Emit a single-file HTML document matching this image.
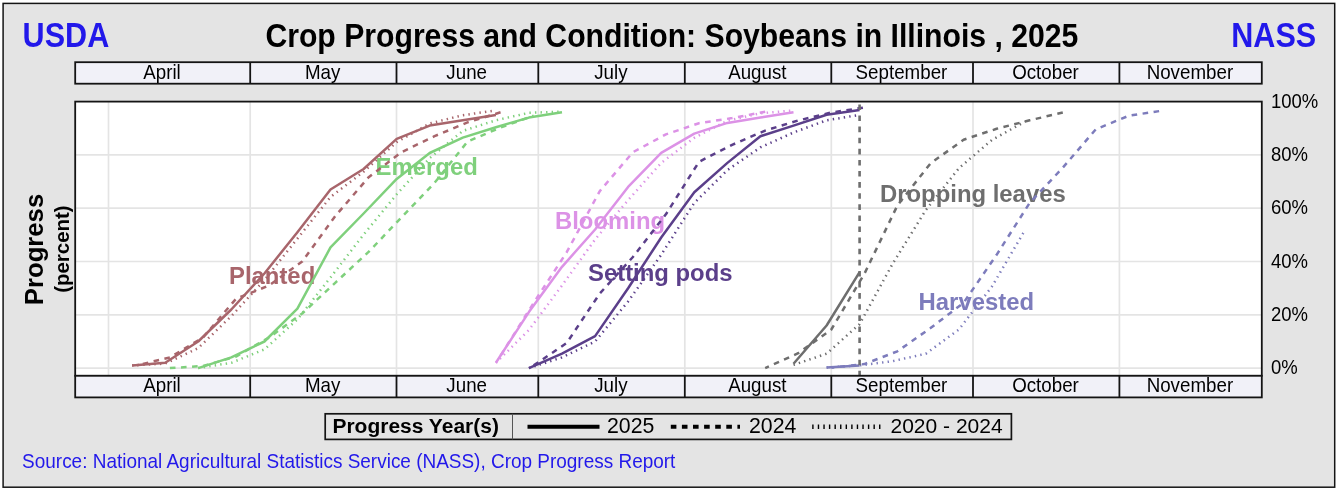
<!DOCTYPE html>
<html lang="en"><head><meta charset="utf-8"><title>Crop Progress and Condition: Soybeans in Illinois, 2025</title>
<style>html,body{margin:0;padding:0;background:#fff}svg{display:block}text{font-family:"Liberation Sans",Arial,Helvetica,sans-serif}</style>
</head><body>
<svg width="1337" height="492" viewBox="0 0 1337 492">
<defs><filter id="soft" x="0" y="0" width="100%" height="100%" filterUnits="userSpaceOnUse" color-interpolation-filters="sRGB"><feGaussianBlur stdDeviation="0.5"/></filter></defs>
<rect x="0" y="0" width="1337" height="492" fill="#fff"/>
<g filter="url(#soft)">
<rect x="-5" y="-5" width="1347" height="502" fill="#fff"/>
<rect x="3.1" y="3.4" width="1331.6" height="483.8" fill="#e4e4e4" stroke="#141414" stroke-width="1.5"/>
<text transform="translate(671.90 46.90) scale(1 1.13)" font-size="30.18" font-weight="bold" text-anchor="middle" fill="#000">Crop Progress and Condition: Soybeans in Illinois , 2025</text>
<text transform="translate(22.60 46.90) scale(1 1.12)" font-size="30.6" font-weight="bold" fill="#2218ea">USDA</text>
<text transform="translate(1316.20 46.90) scale(1 1.12)" font-size="30.6" font-weight="bold" text-anchor="end" fill="#2218ea">NASS</text>
<rect x="75.2" y="101.6" width="1186.6" height="274.20000000000005" fill="#fff"/>
<line x1="108.5" y1="101.6" x2="108.5" y2="375.8" stroke="#e4e4e4" stroke-width="1.7"/>
<line x1="250.2" y1="101.6" x2="250.2" y2="375.8" stroke="#e4e4e4" stroke-width="1.7"/>
<line x1="396.5" y1="101.6" x2="396.5" y2="375.8" stroke="#e4e4e4" stroke-width="1.7"/>
<line x1="538.3" y1="101.6" x2="538.3" y2="375.8" stroke="#e4e4e4" stroke-width="1.7"/>
<line x1="684.8" y1="101.6" x2="684.8" y2="375.8" stroke="#e4e4e4" stroke-width="1.7"/>
<line x1="831.3" y1="101.6" x2="831.3" y2="375.8" stroke="#e4e4e4" stroke-width="1.7"/>
<line x1="973.0" y1="101.6" x2="973.0" y2="375.8" stroke="#e4e4e4" stroke-width="1.7"/>
<line x1="1119.4" y1="101.6" x2="1119.4" y2="375.8" stroke="#e4e4e4" stroke-width="1.7"/>
<line x1="75.2" y1="368.1" x2="1261.8" y2="368.1" stroke="#e4e4e4" stroke-width="1.7"/>
<line x1="75.2" y1="314.8" x2="1261.8" y2="314.8" stroke="#e4e4e4" stroke-width="1.7"/>
<line x1="75.2" y1="261.5" x2="1261.8" y2="261.5" stroke="#e4e4e4" stroke-width="1.7"/>
<line x1="75.2" y1="208.2" x2="1261.8" y2="208.2" stroke="#e4e4e4" stroke-width="1.7"/>
<line x1="75.2" y1="154.9" x2="1261.8" y2="154.9" stroke="#e4e4e4" stroke-width="1.7"/>
<text transform="translate(229.00 283.70) scale(1.038 1.0)" font-size="23" font-weight="bold" fill="#a8656b">Planted</text>
<text transform="translate(375.60 175.20) scale(1.038 1.0)" font-size="23" font-weight="bold" fill="#7fd07c">Emerged</text>
<text transform="translate(555.00 229.40) scale(1.038 1.0)" font-size="23" font-weight="bold" fill="#dc92e6">Blooming</text>
<text transform="translate(588.00 281.20) scale(1.038 1.0)" font-size="23" font-weight="bold" fill="#5b3f8a">Setting pods</text>
<text transform="translate(880.00 202.00) scale(1.038 1.0)" font-size="23" font-weight="bold" fill="#6e6e6e">Dropping leaves</text>
<text transform="translate(918.60 310.20) scale(1.038 1.0)" font-size="23" font-weight="bold" fill="#7d7cbc">Harvested</text>
<g fill="none" stroke-linejoin="round">
<polyline points="132.1,365.4 165.2,363.6 198.2,348.1 231.3,316.1 264.4,280.2 297.4,238.6 330.5,197.0 363.6,171.7 396.7,142.1 429.7,123.5 462.8,115.2 495.9,110.4" stroke="#a8656b" stroke-width="2.5" stroke-dasharray="1.4 4.17"/>
<polyline points="136.8,365.4 169.9,357.4 203.0,337.5 236.0,298.8 269.1,285.5 302.2,261.5 335.2,216.2 368.3,177.6 401.4,152.2 434.5,136.2 467.5,122.4 500.6,112.3" stroke="#a8656b" stroke-width="2.5" stroke-dasharray="5.6 5.5" stroke-dashoffset="4.89"/>
<polyline points="132.1,365.4 165.2,362.8 198.2,341.5 231.3,309.5 264.4,273.5 297.4,232.2 330.5,189.5 363.6,169.0 396.7,138.9 429.7,125.6 462.8,120.3 495.9,114.9" stroke="#a8656b" stroke-width="2.5"/>
<polyline points="198.2,368.1 231.3,362.8 264.4,349.4 297.4,319.3 330.5,277.5 363.6,234.6 396.7,194.3 429.7,158.1 462.8,130.9 495.9,120.3 528.9,112.8 562.0,111.7" stroke="#7fd07c" stroke-width="2.5" stroke-dasharray="1.4 4.17"/>
<polyline points="169.9,368.1 203.0,366.0 236.0,356.6 269.1,337.5 302.2,313.5 335.2,282.8 368.3,252.2 401.4,217.5 434.5,182.9 467.5,141.6 500.6,127.5 533.7,115.7" stroke="#7fd07c" stroke-width="2.5" stroke-dasharray="5.6 5.5"/>
<polyline points="198.2,368.1 231.3,357.4 264.4,341.5 297.4,308.7 330.5,247.4 363.6,213.5 396.7,178.9 429.7,153.0 462.8,137.6 495.9,127.2 528.9,117.6 562.0,112.3" stroke="#7fd07c" stroke-width="2.5"/>
<polyline points="495.9,362.8 528.9,330.0 562.0,285.5 595.1,239.4 628.1,200.2 661.2,162.9 694.3,137.8 727.4,120.8 760.4,113.3 793.5,110.4" stroke="#dc92e6" stroke-width="2.5" stroke-dasharray="1.4 4.17"/>
<polyline points="500.6,355.6 533.7,302.8 566.7,252.2 599.8,191.1 632.9,152.2 665.9,134.4 699.0,123.2 732.1,118.1 765.2,111.7" stroke="#dc92e6" stroke-width="2.5" stroke-dasharray="5.6 5.5"/>
<polyline points="495.9,362.8 528.9,312.1 562.0,266.8 595.1,229.5 628.1,186.9 661.2,152.8 694.3,133.6 727.4,122.9 760.4,117.6 793.5,112.3" stroke="#dc92e6" stroke-width="2.5"/>
<polyline points="528.9,368.1 562.0,357.4 595.1,341.5 628.1,301.5 661.2,254.8 694.3,202.9 727.4,170.1 760.4,147.4 793.5,132.5 826.6,120.3 859.6,114.9" stroke="#5b3f8a" stroke-width="2.5" stroke-dasharray="1.4 4.17"/>
<polyline points="533.7,365.4 566.7,343.0 599.8,293.5 632.9,257.0 665.9,214.3 699.0,161.8 732.1,144.8 765.2,130.6 798.2,120.5 831.3,112.5 864.4,107.5" stroke="#5b3f8a" stroke-width="2.5" stroke-dasharray="5.6 5.5"/>
<polyline points="528.9,368.1 562.0,353.7 595.1,336.1 628.1,288.2 661.2,237.5 694.3,192.2 727.4,162.9 760.4,136.2 793.5,125.6 826.6,114.7 859.6,109.9" stroke="#5b3f8a" stroke-width="2.5"/>
<polyline points="793.5,364.9 826.6,353.7 859.6,324.1 892.7,263.6 925.8,210.1 958.9,168.2 991.9,140.0 1025.0,121.6" stroke="#6e6e6e" stroke-width="2.5" stroke-dasharray="1.4 4.17"/>
<polyline points="765.2,368.1 798.2,353.2 831.3,329.5 864.4,273.8 897.4,205.5 930.5,163.4 963.6,139.7 996.6,128.8 1029.7,120.3 1062.8,112.5" stroke="#6e6e6e" stroke-width="2.5" stroke-dasharray="5.6 5.5" stroke-dashoffset="1.55"/>
<polyline points="793.5,363.8 826.6,325.5 859.6,272.2" stroke="#6e6e6e" stroke-width="2.5"/>
<polyline points="826.6,367.6 859.6,365.4 892.7,361.2 925.8,353.7 958.9,329.5 991.9,286.6 1025.0,230.1" stroke="#7d7cbc" stroke-width="2.5" stroke-dasharray="1.4 4.17"/>
<polyline points="831.3,367.6 864.4,364.1 897.4,351.3 930.5,328.1 963.6,302.8 996.6,254.8 1029.7,202.9 1062.8,167.7 1095.8,129.3 1128.9,115.7 1162.0,110.7" stroke="#7d7cbc" stroke-width="2.5" stroke-dasharray="5.6 5.5" stroke-dashoffset="2.64"/>
<polyline points="826.6,367.6 859.6,365.4" stroke="#7d7cbc" stroke-width="2.5"/>
</g>
<line x1="859.6" y1="104.4" x2="859.6" y2="375.8" stroke="#6e6e6e" stroke-width="2.6" stroke-dasharray="5.6 5.5"/>
<rect x="75.2" y="101.6" width="1186.6" height="274.20000000000005" fill="none" stroke="#141414" stroke-width="1.8"/>
<rect x="75.2" y="62.2" width="1186.6" height="21.5" fill="#f1f1f8" stroke="#141414" stroke-width="1.8"/>
<line x1="250.2" y1="62.2" x2="250.2" y2="83.7" stroke="#141414" stroke-width="1.8"/>
<line x1="396.5" y1="62.2" x2="396.5" y2="83.7" stroke="#141414" stroke-width="1.8"/>
<line x1="538.3" y1="62.2" x2="538.3" y2="83.7" stroke="#141414" stroke-width="1.8"/>
<line x1="684.8" y1="62.2" x2="684.8" y2="83.7" stroke="#141414" stroke-width="1.8"/>
<line x1="831.3" y1="62.2" x2="831.3" y2="83.7" stroke="#141414" stroke-width="1.8"/>
<line x1="973.0" y1="62.2" x2="973.0" y2="83.7" stroke="#141414" stroke-width="1.8"/>
<line x1="1119.4" y1="62.2" x2="1119.4" y2="83.7" stroke="#141414" stroke-width="1.8"/>
<text transform="translate(162.00 78.80) scale(1 1.09)" font-size="18.75" text-anchor="middle" fill="#000">April</text>
<text transform="translate(322.65 78.80) scale(1 1.09)" font-size="18.75" text-anchor="middle" fill="#000">May</text>
<text transform="translate(466.70 78.80) scale(1 1.09)" font-size="18.75" text-anchor="middle" fill="#000">June</text>
<text transform="translate(610.85 78.80) scale(1 1.09)" font-size="18.75" text-anchor="middle" fill="#000">July</text>
<text transform="translate(757.35 78.80) scale(1 1.09)" font-size="18.75" text-anchor="middle" fill="#000">August</text>
<text transform="translate(901.45 78.80) scale(1 1.09)" font-size="18.75" text-anchor="middle" fill="#000">September</text>
<text transform="translate(1045.50 78.80) scale(1 1.09)" font-size="18.75" text-anchor="middle" fill="#000">October</text>
<text transform="translate(1189.90 78.80) scale(1 1.09)" font-size="18.75" text-anchor="middle" fill="#000">November</text>
<rect x="75.2" y="375.8" width="1186.6" height="21.599999999999966" fill="#f1f1f8" stroke="#141414" stroke-width="1.8"/>
<line x1="250.2" y1="375.8" x2="250.2" y2="397.4" stroke="#141414" stroke-width="1.8"/>
<line x1="396.5" y1="375.8" x2="396.5" y2="397.4" stroke="#141414" stroke-width="1.8"/>
<line x1="538.3" y1="375.8" x2="538.3" y2="397.4" stroke="#141414" stroke-width="1.8"/>
<line x1="684.8" y1="375.8" x2="684.8" y2="397.4" stroke="#141414" stroke-width="1.8"/>
<line x1="831.3" y1="375.8" x2="831.3" y2="397.4" stroke="#141414" stroke-width="1.8"/>
<line x1="973.0" y1="375.8" x2="973.0" y2="397.4" stroke="#141414" stroke-width="1.8"/>
<line x1="1119.4" y1="375.8" x2="1119.4" y2="397.4" stroke="#141414" stroke-width="1.8"/>
<text transform="translate(162.00 392.40) scale(1 1.09)" font-size="18.75" text-anchor="middle" fill="#000">April</text>
<text transform="translate(322.65 392.40) scale(1 1.09)" font-size="18.75" text-anchor="middle" fill="#000">May</text>
<text transform="translate(466.70 392.40) scale(1 1.09)" font-size="18.75" text-anchor="middle" fill="#000">June</text>
<text transform="translate(610.85 392.40) scale(1 1.09)" font-size="18.75" text-anchor="middle" fill="#000">July</text>
<text transform="translate(757.35 392.40) scale(1 1.09)" font-size="18.75" text-anchor="middle" fill="#000">August</text>
<text transform="translate(901.45 392.40) scale(1 1.09)" font-size="18.75" text-anchor="middle" fill="#000">September</text>
<text transform="translate(1045.50 392.40) scale(1 1.09)" font-size="18.75" text-anchor="middle" fill="#000">October</text>
<text transform="translate(1189.90 392.40) scale(1 1.09)" font-size="18.75" text-anchor="middle" fill="#000">November</text>
<text transform="translate(1271.00 374.10) scale(1 1.06)" font-size="18.5" fill="#000">0%</text>
<text transform="translate(1271.00 320.80) scale(1 1.06)" font-size="18.5" fill="#000">20%</text>
<text transform="translate(1271.00 267.50) scale(1 1.06)" font-size="18.5" fill="#000">40%</text>
<text transform="translate(1271.00 214.20) scale(1 1.06)" font-size="18.5" fill="#000">60%</text>
<text transform="translate(1271.00 160.90) scale(1 1.06)" font-size="18.5" fill="#000">80%</text>
<text transform="translate(1271.00 107.60) scale(1 1.06)" font-size="18.5" fill="#000">100%</text>
<text transform="translate(42.50 249.50) rotate(-90) scale(1.028 1)" font-size="25" font-weight="bold" text-anchor="middle" fill="#000">Progress</text>
<text transform="translate(68.60 249.10) rotate(-90) scale(1.02 1)" font-size="20" font-weight="bold" text-anchor="middle" fill="#000">(percent)</text>
<rect x="325.2" y="413.8" width="686.2" height="25.6" fill="#e4e4e4" stroke="#141414" stroke-width="1.7"/>
<line x1="512.5" y1="413.8" x2="512.5" y2="439.4" stroke="#555" stroke-width="1"/>
<text transform="translate(332.40 433.20) scale(1.045 1)" font-size="20.1" font-weight="bold" fill="#000">Progress Year(s)</text>
<line x1="527.5" y1="426.7" x2="599.5" y2="426.7" stroke="#000" stroke-width="4"/>
<text transform="translate(607.00 433.40)" font-size="21.3" fill="#000">2025</text>
<line x1="670.8" y1="426.7" x2="740" y2="426.7" stroke="#000" stroke-width="4" stroke-dasharray="5.6 5.5"/>
<text transform="translate(749.00 433.40)" font-size="21.3" fill="#000">2024</text>
<line x1="812.2" y1="426.7" x2="881.2" y2="426.7" stroke="#000" stroke-width="4.6" stroke-dasharray="1.4 4.17"/>
<text transform="translate(890.50 433.40)" font-size="21.0" fill="#000">2020 - 2024</text>
<text transform="translate(22.10 468.40) scale(1 1.05)" font-size="18.97" fill="#2218ea">Source: National Agricultural Statistics Service (NASS), Crop Progress Report</text>
</g>
</svg>
</body></html>
